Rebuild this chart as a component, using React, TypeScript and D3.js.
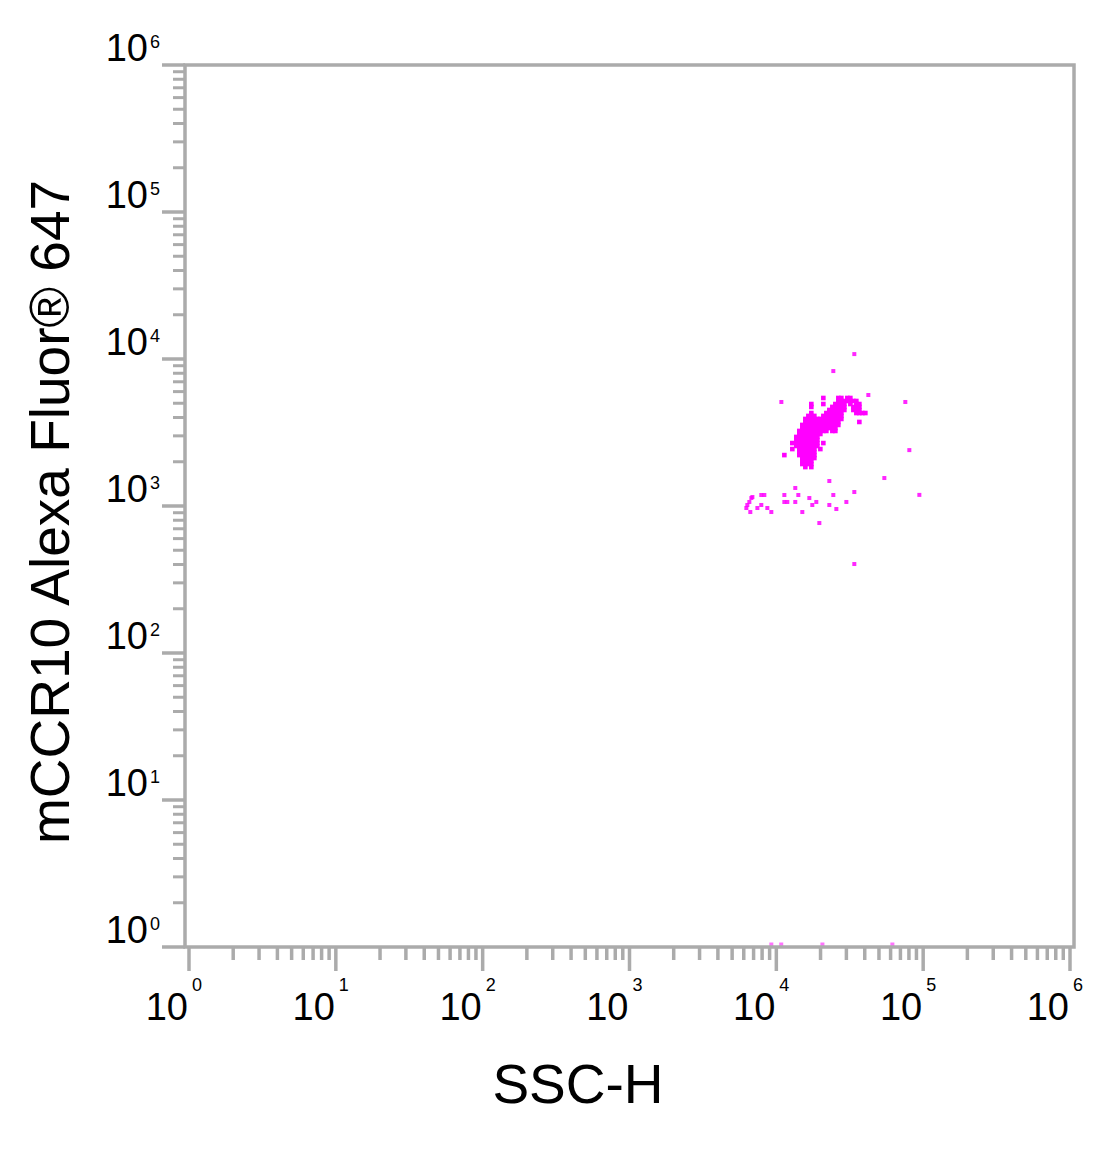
import React from "react";
import * as d3 from "d3";

// ---- axes ----
const domainMin = 1;
const domainMax = 1e6;
const decadeExponents = [0, 1, 2, 3, 4, 5, 6];
const minorMultipliers = [2, 3, 4, 5, 6, 7, 8, 9];
const xTitle = "SSC-H";
const yTitle = "mCCR10 Alexa Fluor\u00AE 647";

// ---- dense population: each fluorescence level with the SSC values of its events ----
const coreFluor = [
  5430, 5180, 4940, 4720, 4500, 4290, 4100, 3910, 3730, 3560, 3390, 3240,
  3090, 2950, 2810, 2680, 2560, 2440, 2330, 2220, 2120, 2020, 1930, 1840,
];
const coreSsc: number[][] = [
  [20900, 26440, 27720, 30450, 31920],
  [26440, 27720, 29050, 30450, 31920, 33460, 35070],
  [17310, 20900, 25230, 26440, 27720, 29050, 31920, 35070, 36760],
  [17310, 24070, 25230, 26440, 27720, 29050, 33460, 35070, 36760],
  [22960, 24070, 25230, 26440, 27720, 29050, 33460, 35070, 36760],
  [17310, 21910, 22960, 24070, 25230, 26440, 27720, 35070, 36760, 38530, 40390],
  [16520, 17310, 18150, 20900, 21910, 22960, 24070, 25230, 26440, 27720],
  [15760, 16520, 17310, 18150, 19020, 19940, 20900, 21910, 22960, 24070, 25230, 26440, 27720],
  [15760, 16520, 17310, 18150, 19020, 19940, 20900, 21910, 22960, 24070, 25230, 26440, 36760],
  [15030, 15760, 16520, 17310, 18150, 19020, 19940, 20900, 21910, 22960, 24070, 25230, 26440],
  [15030, 15760, 16520, 17310, 18150, 19020, 19940, 20900, 21910, 22960, 24070, 25230],
  [14340, 15030, 15760, 16520, 17310, 18150, 19020, 19940, 20900, 21910, 24070, 25230],
  [14340, 15030, 15760, 16520, 17310, 18150, 19020, 19940],
  [13680, 14340, 15030, 15760, 16520, 17310, 18150, 19020],
  [13680, 14340, 15030, 15760, 16520, 17310, 18150, 19020],
  [12850, 13680, 14340, 15030, 15760, 16520, 17310, 18150, 19020, 20900],
  [13680, 14340, 15030, 15760, 16520, 17310, 18150, 19020],
  [12850, 14340, 15030, 15760, 16520, 17310, 18150, 19940],
  [14340, 15030, 15760, 16520, 17310, 18150],
  [11340, 14340, 15030, 15760, 16520, 17310, 18150],
  [15030, 15760, 16520, 17310, 18150],
  [15030, 15760, 16520, 17310],
  [15030, 15760, 16520, 17310],
  [15760, 17310],
];

// ---- sparse events [SSC, fluorescence] ----
const sparseEvents: [number, number][] = [
  [33970, 10800], [24440, 8280], [42330, 5690], [75600, 5100], [10820, 5100],
  [80500, 2400], [54400, 1550], [94200, 1190], [33970, 403], [22960, 1479],
  [33970, 1245], [19630, 766],
  [6760, 1133], [6550, 1065], [6345, 1016], [6250, 969], [6650, 910], [6870, 1151],
  [7900, 1188], [8285, 1188], [7900, 1016], [7430, 969], [8685, 969], [9245, 910],
  [11340, 1188], [11340, 1065], [11880, 1065], [13460, 1326], [14120, 1188],
  [13460, 1065], [15030, 910], [16780, 1133], [17580, 1016], [18720, 1065],
  [24440, 1188], [22960, 1016], [25630, 954], [29990, 1065],
];

// ---- events piled at the bottom of the fluorescence scale ----
const floorSsc = [9245, 10800, 20600, 61700];
const floorFluor = 1.04;

const FONT = "'Liberation Sans', Arial, Helvetica, sans-serif";
const AXIS = "#ababab";
const DOT = "#ff00ff";

export default function App() {
  const x = d3.scaleLog().domain([domainMin, domainMax]).range([189, 1070]);
  const y = d3.scaleLog().domain([domainMin, domainMax]).range([947, 65]);

  const coreEvents: [number, number][] = [];
  coreFluor.forEach((f, i) => coreSsc[i].forEach((s) => coreEvents.push([s, f])));

  const majors = decadeExponents.map((e) => Math.pow(10, e));
  const minors: number[] = [];
  decadeExponents.slice(0, -1).forEach((e) =>
    minorMultipliers.forEach((m) => minors.push(m * Math.pow(10, e)))
  );

  const left = x(domainMin) - 4;
  const right = x(domainMax) + 4;
  const top = y(domainMax);
  const bottom = y(domainMin);
  const sz = 4;
  const coreSz = 4.6;

  return (
    <div style={{ position: "absolute", left: 0, top: 0 }}>
      <svg width={1100} height={1166} style={{ display: "block", background: "#fff" }} fontFamily={FONT}>
        {/* floor events (under the axis) */}
        {floorSsc.map((s, i) => (
          <rect key={"fl" + i} x={x(s) - sz / 2} y={y(floorFluor) - sz / 2} width={sz} height={sz} fill={DOT} opacity={0.55} />
        ))}

        {/* frame */}
        <rect x={left} y={top} width={right - left} height={bottom - top} fill="none" stroke={AXIS} strokeWidth={3.5} />

        {/* y ticks */}
        {majors.map((v, i) => (
          <line key={"ym" + i} x1={162} x2={left} y1={y(v)} y2={y(v)} stroke={AXIS} strokeWidth={3.5} />
        ))}
        {minors.map((v, i) => (
          <line key={"yn" + i} x1={173} x2={left} y1={y(v)} y2={y(v)} stroke={AXIS} strokeWidth={3} />
        ))}
        {/* x ticks */}
        {majors.map((v, i) => (
          <line key={"xm" + i} x1={x(v)} x2={x(v)} y1={bottom} y2={971} stroke={AXIS} strokeWidth={3.5} />
        ))}
        {minors.map((v, i) => (
          <line key={"xn" + i} x1={x(v)} x2={x(v)} y1={bottom} y2={960} stroke={AXIS} strokeWidth={3.5} />
        ))}

        {/* y tick labels */}
        {decadeExponents.map((e, i) => (
          <g key={"yl" + i}>
            <text x={148} y={y(majors[i]) - 4.5} fontSize={38} textAnchor="end" fill="#000">10</text>
            <text x={150} y={y(majors[i]) - 17.5} fontSize={18} textAnchor="start" fill="#000">{String(e)}</text>
          </g>
        ))}
        {/* x tick labels */}
        {decadeExponents.map((e, i) => (
          <g key={"xl" + i}>
            <text x={x(majors[i]) - 1} y={1020} fontSize={38} textAnchor="end" fill="#000">10</text>
            <text x={x(majors[i]) + 3} y={991} fontSize={18} textAnchor="start" fill="#000">{String(e)}</text>
          </g>
        ))}

        {/* events */}
        {sparseEvents.map(([s, f], i) => (
          <rect key={"sp" + i} x={x(s) - sz / 2} y={y(f) - sz / 2} width={sz} height={sz} fill={DOT} opacity={0.85} />
        ))}
        {coreEvents.map(([s, f], i) => (
          <rect key={"co" + i} x={x(s) - coreSz / 2} y={y(f) - coreSz / 2} width={coreSz} height={coreSz} fill={DOT} />
        ))}

        {/* axis titles */}
        <text x={578} y={1103} fontSize={55} textAnchor="middle" fill="#000">{xTitle}</text>
        <text transform="translate(69,512) rotate(-90)" fontSize={55} textAnchor="middle" fill="#000">{yTitle}</text>
      </svg>
    </div>
  );
}
